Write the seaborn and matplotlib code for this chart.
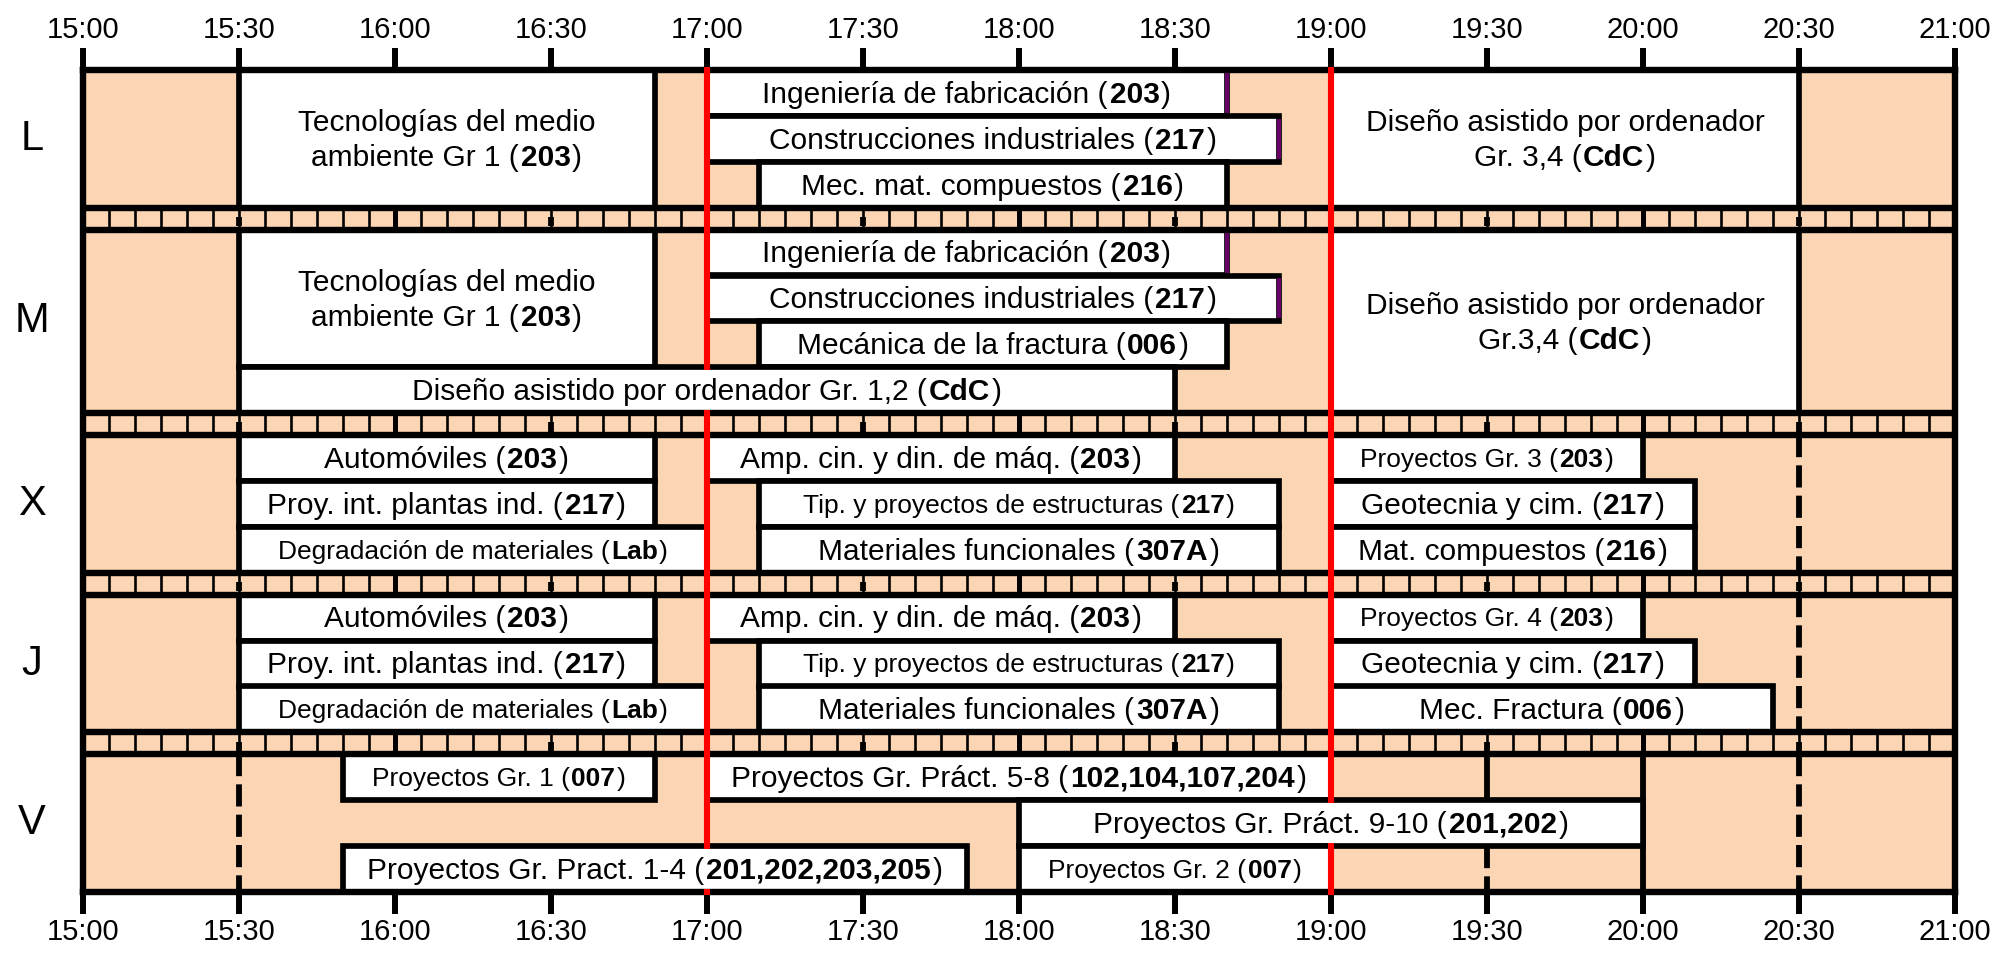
import matplotlib
matplotlib.use("Agg")
import matplotlib.pyplot as plt
import matplotlib.transforms as mtransforms
import numpy as np
import pandas as pd
import seaborn as sns

# ---------------- data ----------------
days = ["L", "M", "X", "J", "V"]
day_slots = [3, 4, 3, 3, 3]
tick_labels = ["15:00", "15:30", "16:00", "16:30", "17:00", "17:30", "18:00",
               "18:30", "19:00", "19:30", "20:00", "20:30", "21:00"]

ev_day = ["L", "L", "L", "L", "L",
          "M", "M", "M", "M", "M", "M",
          "X", "X", "X", "X", "X", "X", "X", "X", "X",
          "J", "J", "J", "J", "J", "J", "J", "J", "J",
          "V", "V", "V", "V", "V"]
ev_slot = [0, 0, 1, 2, 0,
           0, 0, 1, 2, 3, 0,
           0, 1, 2, 0, 1, 2, 0, 1, 2,
           0, 1, 2, 0, 1, 2, 0, 1, 2,
           0, 0, 1, 2, 2]
ev_nslot = [3, 1, 1, 1, 3,
            3, 1, 1, 1, 1, 4,
            1, 1, 1, 1, 1, 1, 1, 1, 1,
            1, 1, 1, 1, 1, 1, 1, 1, 1,
            1, 1, 1, 1, 1]
ev_start = ["15:30", "17:00", "17:00", "17:10", "19:00",
            "15:30", "17:00", "17:00", "17:10", "15:30", "19:00",
            "15:30", "15:30", "15:30", "17:00", "17:10", "17:10", "19:00", "19:00", "19:00",
            "15:30", "15:30", "15:30", "17:00", "17:10", "17:10", "19:00", "19:00", "19:00",
            "15:50", "17:00", "18:00", "15:50", "18:00"]
ev_end = ["16:50", "18:40", "18:50", "18:40", "20:30",
          "16:50", "18:40", "18:50", "18:40", "18:30", "20:30",
          "16:50", "16:50", "17:00", "18:30", "18:50", "18:50", "20:00", "20:10", "20:10",
          "16:50", "16:50", "17:00", "18:30", "18:50", "18:50", "20:00", "20:10", "20:25",
          "16:50", "19:00", "20:00", "17:50", "19:00"]
ev_label = [
    "Tecnologías del medio\nambiente Gr 1 (**203**)",
    "Ingeniería de fabricación (**203**)",
    "Construcciones industriales (**217**)",
    "Mec. mat. compuestos (**216**)",
    "Diseño asistido por ordenador\nGr. 3,4 (**CdC**)",
    "Tecnologías del medio\nambiente Gr 1 (**203**)",
    "Ingeniería de fabricación (**203**)",
    "Construcciones industriales (**217**)",
    "Mecánica de la fractura (**006**)",
    "Diseño asistido por ordenador Gr. 1,2 (**CdC**)",
    "Diseño asistido por ordenador\nGr.3,4 (**CdC**)",
    "Automóviles (**203**)",
    "Proy. int. plantas ind. (**217**)",
    "Degradación de materiales (**Lab**)",
    "Amp. cin. y din. de máq. (**203**)",
    "Tip. y proyectos de estructuras (**217**)",
    "Materiales funcionales (**307A**)",
    "Proyectos Gr. 3 (**203**)",
    "Geotecnia y cim. (**217**)",
    "Mat. compuestos (**216**)",
    "Automóviles (**203**)",
    "Proy. int. plantas ind. (**217**)",
    "Degradación de materiales (**Lab**)",
    "Amp. cin. y din. de máq. (**203**)",
    "Tip. y proyectos de estructuras (**217**)",
    "Materiales funcionales (**307A**)",
    "Proyectos Gr. 4 (**203**)",
    "Geotecnia y cim. (**217**)",
    "Mec. Fractura (**006**)",
    "Proyectos Gr. 1 (**007**)",
    "Proyectos Gr. Práct. 5-8 (**102,104,107,204**)",
    "Proyectos Gr. Práct. 9-10 (**201,202**)",
    "Proyectos Gr. Pract. 1-4 (**201,202,203,205**)",
    "Proyectos Gr. 2 (**007**)",
]

# marker lines in empty (peach) areas: day, first slot, n slots, time
dashed_day = ["X", "J", "V", "V", "V"]
dashed_slot = [0, 0, 0, 0, 2]
dashed_n = [3, 3, 3, 3, 1]
dashed_time = ["20:30", "20:30", "15:30", "20:30", "19:30"]
solid_day = ["V", "V"]
solid_slot = [0, 0]
solid_n = [1, 3]
solid_time = ["19:30", "20:00"]

red_times = ["17:00", "19:00"]

# ---------------- style ----------------
PEACH = "#FCD5B4"
RED = "#FF0000"
PURPLE = "#660066"
SEP = 0.473
BOX_LW = 4.1
ROW_LW = 4.6
BIG = 21.5
SMALL = 19.0
TICK_SIZE = 21
DAY_SIZE = 30
small_prefix = ("Degradación", "Tip.", "Proyectos Gr. 1 ", "Proyectos Gr. 2 ",
                "Proyectos Gr. 3 ", "Proyectos Gr. 4 ")
purple_prefix = ("Ingeniería", "Construcciones")


def hm(s):
    h, m = s.split(":")
    return int(h) + int(m) / 60.0


sns.set_theme(style="white")
plt.rcParams["font.family"] = ["Liberation Sans", "DejaVu Sans"]
plt.rcParams["text.color"] = "black"

df = pd.DataFrame({"day": ev_day, "slot": ev_slot, "n": ev_nslot,
                   "start": [hm(s) for s in ev_start],
                   "end": [hm(s) for s in ev_end], "label": ev_label})

# vertical layout (units: sub-row)
row_top = {}
seps = []
y = 0.0
for i, (d, n) in enumerate(zip(days, day_slots)):
    row_top[d] = y
    y += n
    if i < len(days) - 1:
        seps.append((y, y + SEP))
        y += SEP
Y_TOTAL = y
df["top"] = [row_top[d] + s for d, s in zip(df["day"], df["slot"])]

W, H = 1996, 955
fig = plt.figure(figsize=(W / 100, H / 100), dpi=100)
x_left, x_right = 82.7, 1955.0
y_top, y_bot = 70.0, 892.0
ax = fig.add_axes([x_left / W, 1 - y_bot / H, (x_right - x_left) / W, (y_bot - y_top) / H])
ax.set_xlim(15, 21)
ax.set_ylim(Y_TOTAL, 0)
ax.set_facecolor(PEACH)
renderer = fig.canvas.get_renderer()

# separator strips: 5-minute grid
five = np.arange(15, 21 + 1e-9, 5 / 60)
for (a, b) in seps:
    for xv in five:
        mins = int(round((xv - 15) * 60))
        if mins % 60 == 0:
            ax.vlines(xv, a, b, color="black", lw=3.6, zorder=2)
        else:
            ax.vlines(xv, a, b, color="black", lw=1.9, zorder=2)
            if mins % 30 == 0:
                ax.vlines(xv, a + 0.42 * SEP, a + 0.85 * SEP, color="black", lw=4.2, zorder=2)

# marker lines in empty areas
for d, s, n, t in zip(dashed_day, dashed_slot, dashed_n, dashed_time):
    ax.vlines(hm(t), row_top[d] + s, row_top[d] + s + n, color="black", lw=4.2,
              linestyles=[(0, (3.8, 1.4))], zorder=2)
for d, s, n, t in zip(solid_day, solid_slot, solid_n, solid_time):
    ax.vlines(hm(t), row_top[d] + s, row_top[d] + s + n, color="black", lw=4.2, zorder=2)

# boxes
ax.barh(df["top"], df["end"] - df["start"], left=df["start"], height=df["n"],
        align="edge", color="white", edgecolor="black", linewidth=BOX_LW, zorder=3)

# row / separator boundaries
bounds = []
for a, b in seps:
    bounds += [a, b]
ax.hlines(bounds, 15, 21, color="black", lw=ROW_LW, zorder=4)
for sp in ax.spines.values():
    sp.set_color("black")
    sp.set_linewidth(ROW_LW)
    sp.set_zorder(4)

# red lines, hidden inside boxes that cross them
EXT = 0.065
for rt in red_times:
    t = hm(rt)
    cov = sorted((tp, tp + n) for tp, n, s0, e0 in
                 zip(df["top"], df["n"], df["start"], df["end"]) if s0 < t < e0)
    cur = -EXT
    for a, b in cov:
        ax.vlines(t, cur, a + EXT, color=RED, lw=4.4, zorder=6, clip_on=False)
        cur = b - EXT
    ax.vlines(t, cur, Y_TOTAL + EXT, color=RED, lw=4.4, zorder=6, clip_on=False)

# purple right edges
for tp, n, e0, lab in zip(df["top"], df["n"], df["end"], df["label"]):
    if lab.startswith(purple_prefix):
        ax.vlines(e0, tp + 0.065, tp + n - 0.065, color=PURPLE, lw=2.9, zorder=7)


def rich_text(xc, yc, label, size):
    lines = []
    for line in label.split("\n"):
        parts = line.split("**")
        lines.append([(p, i % 2 == 1) for i, p in enumerate(parts) if p])
    em = size * fig.dpi / 72.0
    line_h = 1.16 * em
    gap = 0.055 * em
    n = len(lines)
    for li, parts in enumerate(lines):
        dy = ((n - 1) / 2.0 - li) * line_h - 0.33 * em
        items = []
        for s, b in parts:
            tx = ax.text(xc, yc, s, fontsize=size, fontweight="bold" if b else "normal",
                         ha="left", va="baseline", zorder=9, color="black")
            items.append((tx, tx.get_window_extent(renderer).width))
        total = sum(w for _, w in items) + gap * (len(items) - 1)
        x0 = -total / 2.0
        for tx, w in items:
            tx.set_transform(mtransforms.offset_copy(ax.transData, fig=fig, x=x0, y=dy,
                                                     units="dots"))
            x0 += w + gap


for tp, n, s0, e0, lab in zip(df["top"], df["n"], df["start"], df["end"], df["label"]):
    size = SMALL if lab.startswith(small_prefix) else BIG
    rich_text((s0 + e0) / 2.0, tp + n / 2.0, lab, size)

# day labels
for d, n in zip(days, day_slots):
    ax.text(15 - 0.1625, row_top[d] + n / 2.0, d, fontsize=DAY_SIZE, ha="center", va="center",
            clip_on=False, color="black")

# time axis top and bottom
ax.set_xticks([hm(t) for t in tick_labels])
ax.set_xticklabels(tick_labels)
ax.set_yticks([])
ax.tick_params(axis="x", which="major", top=True, bottom=True, labeltop=True,
               labelbottom=True, length=16, width=4.3, pad=3, labelsize=TICK_SIZE,
               direction="out", color="black", labelcolor="black")
ax.grid(False)

fig.savefig("out.png", dpi=100)
